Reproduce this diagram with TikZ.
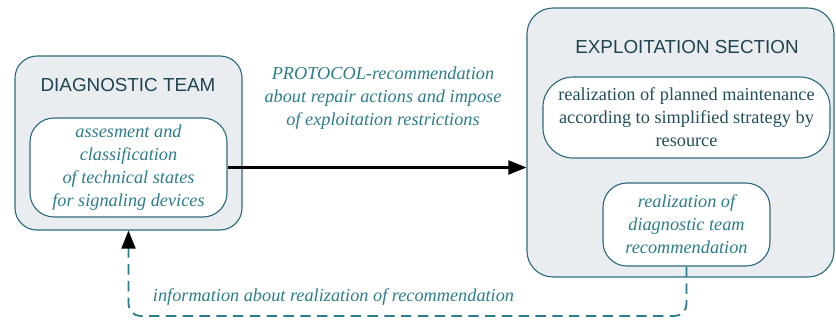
\documentclass[tikz,border=0pt]{standalone}
\usepackage{fontspec}
\setmainfont{Liberation Serif}
\setsansfont{Liberation Sans}
\usetikzlibrary{arrows.meta}
\definecolor{boxfill}{HTML}{E9EDF0}
\definecolor{boxline}{HTML}{2E6B7A}
\definecolor{tealtext}{HTML}{2C7D8C}
\definecolor{titletext}{HTML}{1F4450}
\tikzset{
  outerbox/.style={draw=boxline,fill=boxfill,rounded corners=0.55cm,line width=0.8pt},
  innerbox/.style={draw=boxline,fill=white,rounded corners=0.6cm,line width=0.8pt,
    align=center,text=tealtext,font=\fontsize{13}{16.4}\selectfont},
  boxtitle/.style={text=titletext,font=\sffamily\fontsize{13.4}{15}\selectfont},
  remark/.style={text=tealtext,font=\itshape\fontsize{13}{16.4}\selectfont,align=center},
}
\begin{document}
\begin{tikzpicture}
                \useasboundingbox (0,0) rectangle (20.9,-8.05);
                % diagnostic team
                \node[outerbox,minimum width=5.675cm,minimum height=4.35cm] (dteam) at (3.2125,-3.575) {};
                \node[boxtitle] (dtitle) at (3.2,-2.125) {DIAGNOSTIC TEAM};
                \node[innerbox,font=\itshape\fontsize{13}{16.4}\selectfont,minimum width=4.925cm,minimum height=2.475cm,inner sep=0pt] (dtask) at (3.2125,-4.1875)
                  {assesment and\\classification\\of technical states\\for signaling devices};
                % exploitation section
                \node[outerbox,rounded corners=0.65cm,minimum width=7.675cm,minimum height=6.725cm] (esec) at (17.0125,-3.5625) {};
                \node[boxtitle] (etitle) at (17.175,-1.175) {EXPLOITATION SECTION};
                \node[innerbox,text=titletext!80!tealtext,rounded corners=0.75cm,minimum width=7.175cm,minimum height=2.025cm,inner sep=0pt] (eplan) at (17.1625,-2.9375)
                  {realization of planned maintenance\\according to simplified strategy by\\resource};
                \node[innerbox,font=\itshape\fontsize{13}{16.4}\selectfont,minimum width=4.175cm,minimum height=2.075cm,inner sep=0pt] (erec) at (17.1625,-5.6125)
                  {realization of\\diagnostic team\\recommendation};
                % connectors
                \draw[-{Triangle[length=4.5mm,width=3.5mm]},line width=1.5pt] (dtask.east) -- (dtask.east -| esec.west);
                \node[remark] (protocol) at (9.575,-2.45)
                  {PROTOCOL-recommendation\\about repair actions and impose\\of exploitation restrictions};
                \coordinate (bend) at (0,-7.9);
                \draw[-{Triangle[length=4.5mm,width=3.5mm,color=black]},dash pattern=on 2.6mm off 1.6mm,draw=tealtext,line width=1.3pt,rounded corners=0.3cm]
                  (erec.south) -- (erec.south |- bend) -- (dteam.south |- bend) -- (dteam.south);
                \node[remark,anchor=west] (info) at (3.7,-7.425) {information about realization of recommendation};
\end{tikzpicture}
\end{document}
